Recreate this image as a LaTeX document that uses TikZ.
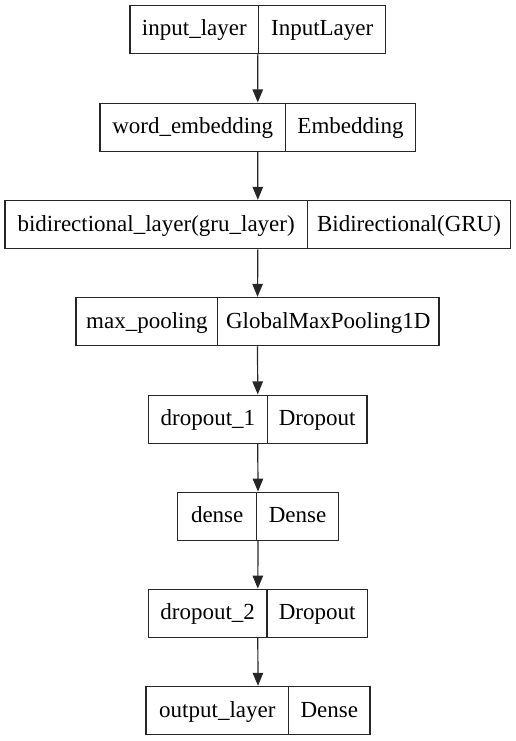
\documentclass[tikz,border=0pt]{standalone}
\usepackage{fontspec}
\setmainfont{Liberation Serif}
\usetikzlibrary{arrows.meta}
\tikzset{
  boxline/.style={draw=black!85, line width=1.2pt},
  lbl/.style={inner sep=0pt, font=\fontsize{23pt}{26pt}\selectfont, text height=17.1pt, text depth=4.3pt, anchor=center},
  conn/.style={draw=black!85, line width=1.2pt, -{Triangle[length=13pt,width=10.5pt]}, shorten >=0.3pt}
}
% #1 name, #2 left, #3 divider, #4 right, #5 top, #6 bottom, #7 left text, #8 right text
\newcommand\layerbox[8]{%
  \node[boxline, inner sep=0pt, minimum width={(#4-#2)*1pt}, minimum height={(#6-#5)*1pt}] (#1) at ({(#2+#4)/2*1pt},{-(#5+#6)/2*1pt}) {};
  \coordinate (#1dt) at ({#3*1pt},{-#5*1pt});
  \coordinate (#1db) at ({#3*1pt},{-#6*1pt});
  \draw[boxline] (#1dt) -- (#1db);
  \node[lbl] (#1l) at ({(#2+#3)/2*1pt},{-(#5+#6)/2*1pt}) {#7};
  \node[lbl] (#1r) at ({(#3+#4)/2*1pt},{-(#5+#6)/2*1pt}) {#8};
}
\begin{document}
\begin{tikzpicture}[x=1pt,y=1pt]
\useasboundingbox (0,0) rectangle (516,-741);
\layerbox{L1}{130}{258.7}{385.7}{5.3}{53.3}{input\_layer}{InputLayer}
\layerbox{L2}{100}{285.5}{415.5}{103.3}{151.3}{word\_embedding}{Embedding}
\layerbox{L3}{5}{307.3}{510.7}{200.7}{248.7}{bidirectional\_layer(gru\_layer)}{Bidirectional(GRU)}
\layerbox{L4}{76}{217.7}{439}{297.7}{345.7}{max\_pooling}{GlobalMaxPooling1D}
\layerbox{L5}{148.5}{267.3}{367}{395.3}{443.3}{dropout\_1}{Dropout}
\layerbox{L6}{177.7}{256.7}{338.3}{492.5}{540.5}{dense}{Dense}
\layerbox{L7}{148.3}{267}{367.3}{589.5}{637.5}{dropout\_2}{Dropout}
\layerbox{L8}{146}{288.7}{370}{686.7}{734.7}{output\_layer}{Dense}
\draw[conn] (L1.south) -- (L2.north);
\draw[conn] (L2.south) -- (L3.north);
\draw[conn] (L3.south) -- (L4.north);
\draw[conn] (L4.south) -- (L5.north);
\draw[conn] (L5.south) -- (L6.north);
\draw[conn] (L6.south) -- (L7.north);
\draw[conn] (L7.south) -- (L8.north);
\end{tikzpicture}
\end{document}
